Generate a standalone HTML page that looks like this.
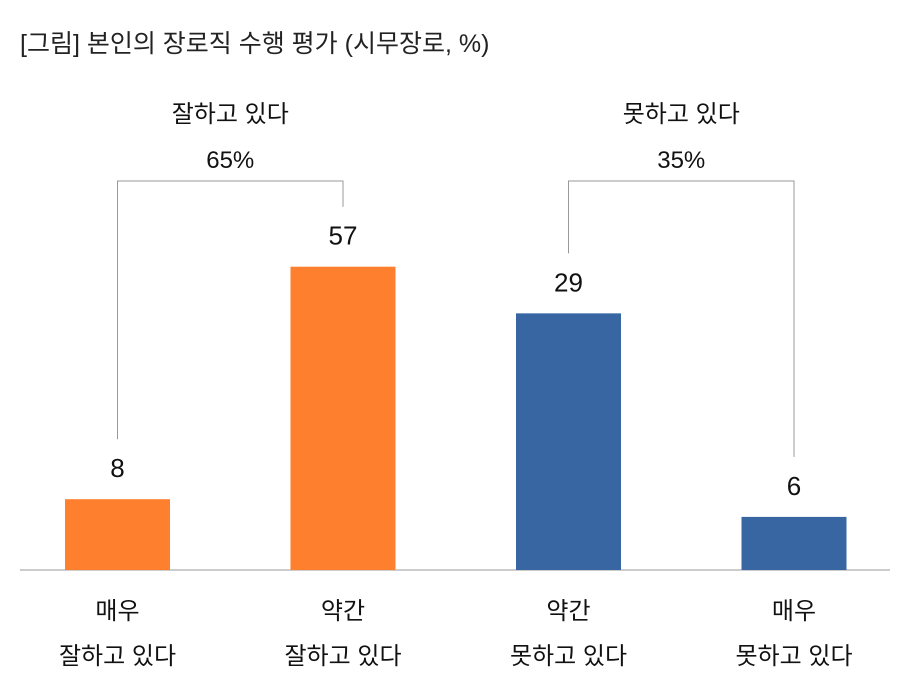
<!DOCTYPE html>
<html><head><meta charset="utf-8"><style>
body{margin:0;background:#fff;}
svg{display:block;font-family:"Liberation Sans","Noto Sans CJK KR",sans-serif;}
</style></head><body>
<svg id="chart" width="914" height="694">
<text x="20" y="52" font-size="25" fill="#222">[그림] 본인의 장로직 수행 평가 (시무장로, %)</text>
<line x1="20" y1="570" x2="890" y2="570" stroke="#bbb" stroke-width="1.5"/>
<g id="bars"></g>
<g id="brackets"></g>
</svg>
<script>
const categoriesTop = ["매우", "약간", "약간", "매우"];
const categoriesBottom = ["잘하고 있다", "잘하고 있다", "못하고 있다", "못하고 있다"];
const values = [8, 57, 29, 6];
const colors = ["#fe7f2d", "#fe7f2d", "#3766a3", "#3766a3"];
const groupLabels = ["잘하고 있다", "못하고 있다"];
const groupTotals = ["65%", "35%"];
const groupMembers = [[0, 1], [2, 3]];

const ns = "http://www.w3.org/2000/svg";
const baseY = 570;
// piecewise (broken) value axis as in the original chart
function yScale(v) {
  const h = v <= 30 ? v * 8.85 : 265.5 + (v - 30) * 1.4;
  return baseY - h;
}
const slot = 225.5, x0 = 65, bw = 105;
function xCenter(i) { return x0 + i * slot + bw / 2; }
function mk(tag, attrs, parent, text) {
  const e = document.createElementNS(ns, tag);
  for (const k in attrs) e.setAttribute(k, attrs[k]);
  if (text !== undefined) e.textContent = text;
  parent.appendChild(e);
  return e;
}
const gb = document.getElementById("bars");
values.forEach((v, i) => {
  const y = yScale(v);
  const r = mk("rect", {x: xCenter(i) - bw / 2, y: y, width: bw, height: baseY - y, fill: colors[i]}, gb);
  
  
  const t = mk("text", {x: xCenter(i), y: y - 22, "text-anchor": "middle", "font-size": "26", fill: "#111"}, gb, String(v));
  
  
  const c1 = mk("text", {x: xCenter(i), y: 619, "text-anchor": "middle", "font-size": "24", fill: "#111"}, gb, categoriesTop[i]);
  
  
  const c2 = mk("text", {x: xCenter(i), y: 664, "text-anchor": "middle", "font-size": "24", fill: "#111"}, gb, categoriesBottom[i]);
  
  
});
const gk = document.getElementById("brackets");
const topY = 181;
groupMembers.forEach((m, g) => {
  const a = m[0], b = m[1];
  const ya = yScale(values[a]) - 60, yb = yScale(values[b]) - 60;
  const p = mk("path", {d: `M${xCenter(a)},${ya} V${topY} H${xCenter(b)} V${yb}`, fill: "none", stroke: "#999", "stroke-width": "1"}, gk);
  
  
  const cx = (xCenter(a) + xCenter(b)) / 2;
  const t1 = mk("text", {x: cx, y: 122, "text-anchor": "middle", "font-size": "24", fill: "#111"}, gk, groupLabels[g]);
  
  
  const t2 = mk("text", {x: cx, y: 168, "text-anchor": "middle", "font-size": "24", fill: "#111"}, gk, groupTotals[g]);
  
  
});
</script>
</body></html>
